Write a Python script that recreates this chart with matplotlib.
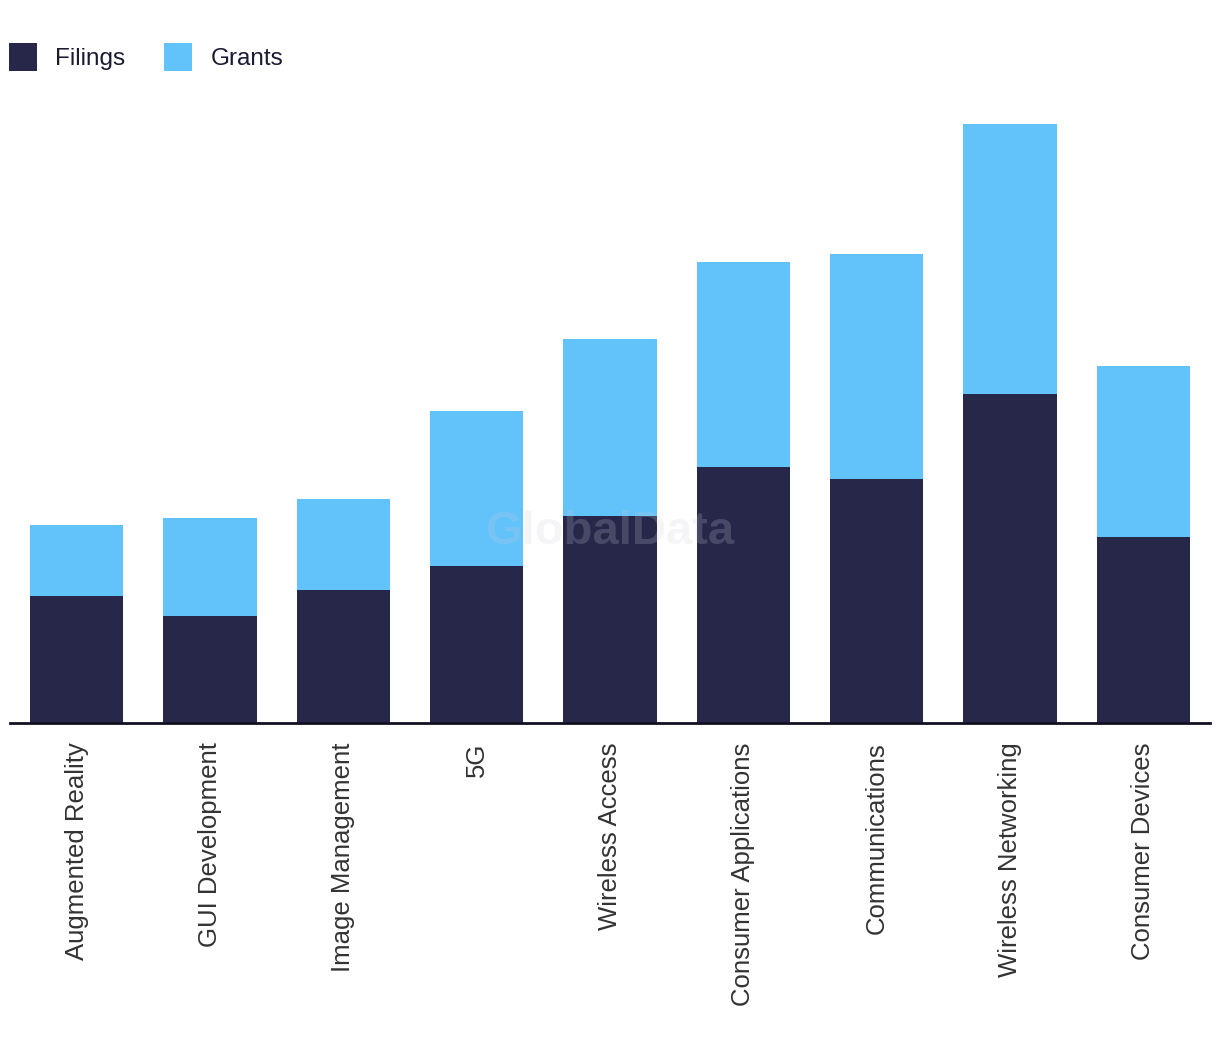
import matplotlib.pyplot as plt
import numpy as np

# categories and values
categories = [
    "Augmented Reality",
    "GUI Development",
    "Image Management",
    "5G",
    "Wireless Access",
    "Consumer Applications",
    "Communications",
    "Wireless Networking",
    "Consumer Devices",
]
filings = [127, 107, 133, 157, 207, 256, 244, 329, 186]
grants = [71, 98, 91, 155, 177, 205, 225, 270, 171]

dark = "#27274a"
light = "#62c2fa"

plt.rcParams["font.family"] = ["Liberation Sans", "DejaVu Sans"]

fig = plt.figure(figsize=(12.2, 10.6), dpi=100)
ax = fig.add_axes([10 / 1220, 337 / 1060, 1200 / 1220, 623 / 1060])

x = np.arange(len(categories))
ax.bar(x, filings, width=0.7, color=dark, label="Filings", zorder=2)
ax.bar(x, grants, width=0.7, bottom=filings, color=light, label="Grants", zorder=2)

ax.set_xlim(-0.5, len(categories) - 0.5)
ax.set_ylim(0, 623)
ax.set_xticks(x)
ax.set_xticklabels(categories, rotation=90, fontsize=18.5, color="#333333", va="top")
ax.tick_params(axis="x", length=0, pad=14)
ax.set_yticks([])

for side in ["top", "right", "left"]:
    ax.spines[side].set_visible(False)
ax.spines["bottom"].set_color("#111122")
ax.spines["bottom"].set_linewidth(2)

# faint watermark
fig.text(610 / 1220, 1 - 532 / 1060, "GlobalData", ha="center", va="center",
         fontsize=34, fontweight="bold", color="#d0d0dc", alpha=0.2, zorder=5)

leg = fig.legend(
    loc="upper left",
    bbox_to_anchor=(2 / 1220, 1 - 36 / 1060),
    ncol=2,
    frameon=False,
    fontsize=17.5,
    handlelength=1.15,
    handleheight=1.35,
    handletextpad=0.75,
    columnspacing=1.6,
    borderaxespad=0.0,
    borderpad=0.3,
)
for t in leg.get_texts():
    t.set_color("#1a1a33")

plt.savefig("out.png", dpi=100)
plt.close()
